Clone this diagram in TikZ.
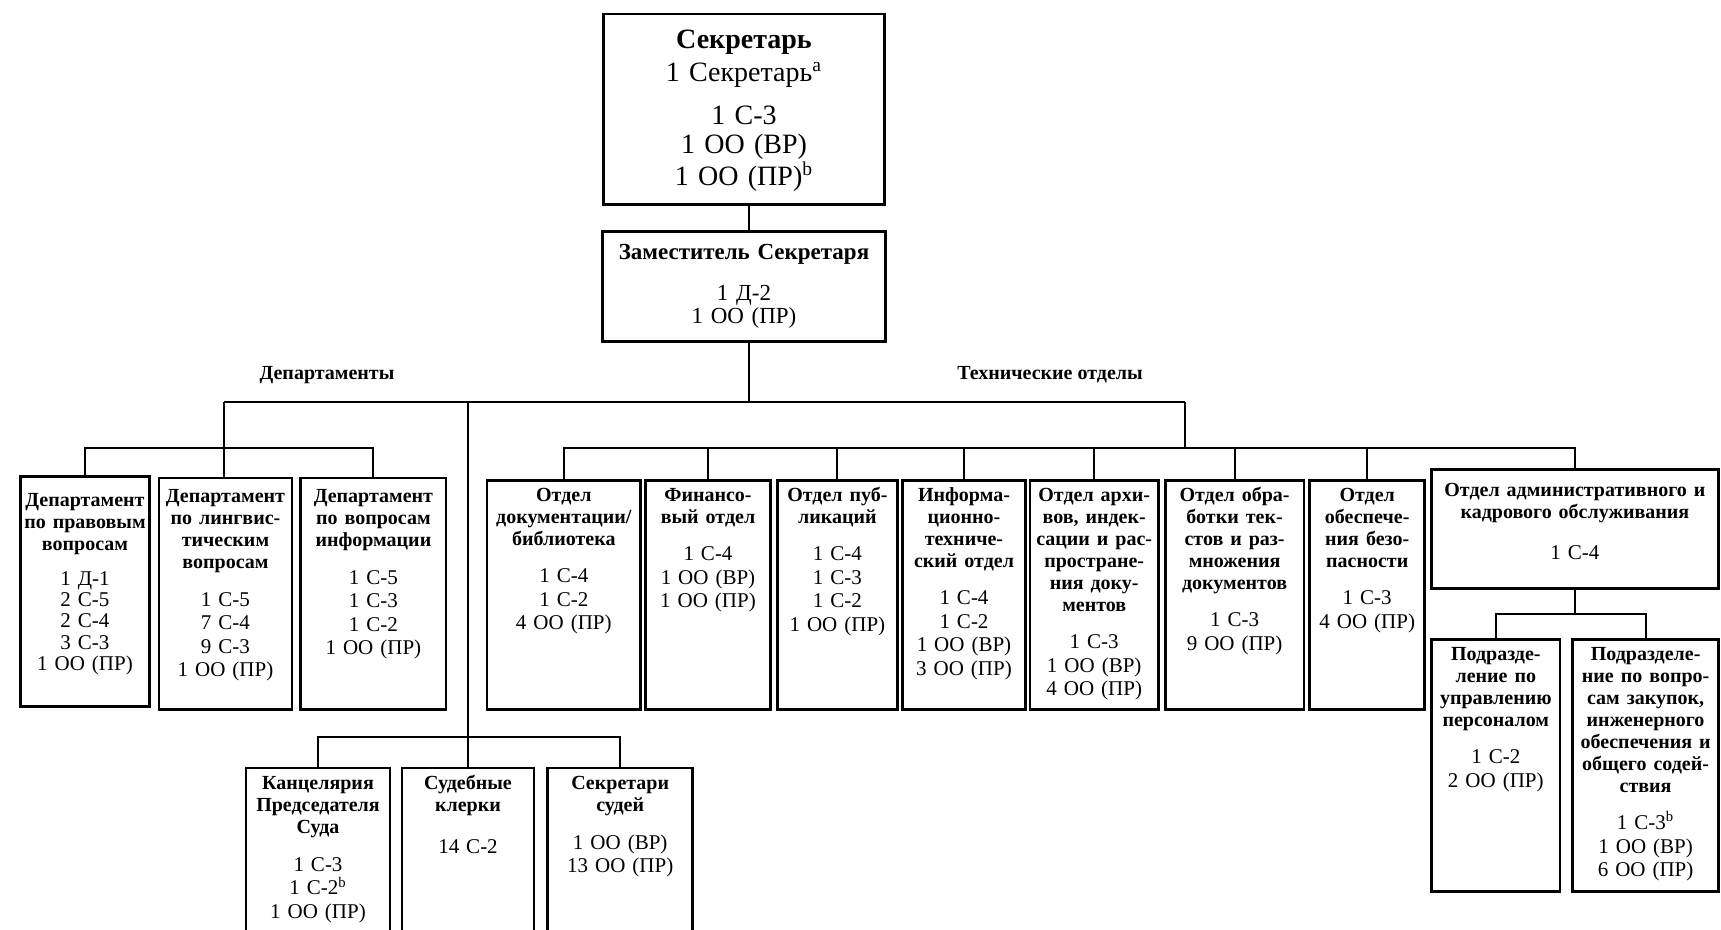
\documentclass[tikz,border=0pt]{standalone}
\usepackage{fontspec}
\setmainfont{Liberation Serif}
\tikzstyle{unitBox} = [rectangle, draw=black, line width=1.3pt, align=center, anchor=north, inner xsep=0pt, inner ysep=0pt, font=\fontsize{10.5}{11.75}\selectfont]
\tikzstyle{deptBox} = [unitBox, text height=12.5pt, text depth=103.15pt]
\tikzstyle{techBox} = [unitBox, text height=10.5pt, text depth=104pt]
\tikzstyle{subBox} = [unitBox, text height=10.5pt, text depth=115.5pt]
\tikzstyle{courtBox} = [unitBox, text height=11pt, text depth=79pt]
\tikzstyle{groupLabel} = [font=\bfseries\fontsize{10}{11}\selectfont]
\tikzstyle{link} = [line width=1pt]
\newcommand{\unitname}[1]{{\bfseries\fontsize{10}{11}\selectfont #1\par}\vspace{7pt}}

\begin{document}
\begin{tikzpicture}[x=0.5pt, y=-0.5pt]
\useasboundingbox (0,0) rectangle (1721,930);
\clip (0,0) rectangle (1721,930);

\node (secretary) [unitBox, text width=140.5pt, text height=17.3pt, text depth=77.85pt, font=\fontsize{14}{14.25}\selectfont] at (744,12.7) {
\textbf{Секретарь}\\[2.2pt]
1 Секретарь\textsuperscript{a}\\[7.5pt]
1 С-3\\
1 ОО (ВР)\\
1 ОО (ПР)\textsuperscript{b}
};

\node (deputy) [unitBox, text width=141.65pt, text height=14.25pt, text depth=40.75pt, font=\fontsize{11.5}{11.5}\selectfont] at (744,230) {
\textbf{Заместитель Секретаря}\\[9pt]
1 Д-2\\
1 ОО (ПР)
};

\node (deptLabel) [groupLabel] at (327,375) {Департаменты};
\node (techLabel) [groupLabel] at (1050,375) {Технические отделы};

\node (legal) [deptBox, text width=64.25pt, text height=15pt, text depth=100pt, font=\fontsize{10.5}{10.6}\selectfont] at (85,475) {
\unitname{Департамент\\ по правовым\\ вопросам}
1 Д-1\\ 2 С-5\\ 2 С-4\\ 3 С-3\\ 1 ОО (ПР)
};
\node (linguistic) [deptBox, text width=66.65pt] at (225.5,476.7) {
\unitname{Департамент\\ по лингвис-\\ тическим\\ вопросам}
1 С-5\\ 7 С-4\\ 9 С-3\\ 1 ОО (ПР)
};
\node (information) [deptBox, text width=72.65pt] at (373.4,476.7) {
\unitname{Департамент\\ по вопросам\\ информации}
1 С-5\\ 1 С-3\\ 1 С-2\\ 1 ОО (ПР)
};

\node (documentation) [techBox, text width=76.8pt] at (563.8,479) {
\unitname{Отдел\\ документации/\\ библиотека}
1 С-4\\ 1 С-2\\ 4 ОО (ПР)
};
\node (finance) [techBox, text width=62.4pt] at (708,479) {
\unitname{Финансо-\\ вый отдел}
1 С-4\\ 1 ОО (ВР)\\ 1 ОО (ПР)
};
\node (publications) [techBox, text width=60pt] at (837.4,479) {
\unitname{Отдел пуб-\\ ликаций}
1 С-4\\ 1 С-3\\ 1 С-2\\ 1 ОО (ПР)
};
\node (infotech) [techBox, text width=61.4pt] at (964,479) {
\unitname{Информа-\\ ционно-\\ техниче-\\ ский отдел}
1 С-4\\ 1 С-2\\ 1 ОО (ВР)\\ 3 ОО (ПР)
};
\node (archives) [techBox, text width=64.4pt] at (1094.2,479) {
\unitname{Отдел архи-\\ вов, индек-\\ сации и рас-\\ простране-\\ ния доку-\\ ментов}
1 С-3\\ 1 ОО (ВР)\\ 4 ОО (ПР)
};
\node (textprocessing) [techBox, text width=69.3pt] at (1234.6,479) {
\unitname{Отдел обра-\\ ботки тек-\\ стов и раз-\\ множения\\ документов}
1 С-3\\ 9 ОО (ПР)
};
\node (security) [techBox, text width=57.45pt] at (1367.2,479) {
\unitname{Отдел\\ обеспече-\\ ния безо-\\ пасности}
1 С-3\\ 4 ОО (ПР)
};
\node (admin) [unitBox, text width=143.6pt, text height=13.5pt, text depth=45.75pt] at (1574.9,468.5) {
\unitname{Отдел административного и\\ кадрового обслуживания}
\vspace{1.5pt}
1 С-4
};

\node (personnel) [subBox, text width=64.15pt] at (1495.8,638) {
\unitname{Подразде-\\ ление по\\ управлению\\ персоналом}
1 С-2\\ 2 ОО (ПР)
};
\node (procurement) [subBox, text width=72.9pt] at (1645.6,638) {
\unitname{Подразделе-\\ ние по вопро-\\ сам закупок,\\ инженерного\\ обеспечения и\\ общего содей-\\ ствия}
1 С-3\textsuperscript{b}\\ 1 ОО (ВР)\\ 6 ОО (ПР)
};

\node (presidency) [courtBox, text width=72pt] at (318,766.7) {
\unitname{Канцелярия\\ Председателя\\ Суда}
1 С-3\\ 1 С-2\textsuperscript{b}\\ 1 ОО (ПР)
};
\node (clerks) [courtBox, text width=66.15pt] at (468,766.7) {
\unitname{Судебные\\ клерки}
\vspace{2pt}
14 С-2
};
\node (judgesecretaries) [courtBox, text width=72.5pt] at (620.2,766.7) {
\unitname{Секретари\\ судей}
1 ОО (ВР)\\ 13 ОО (ПР)
};

\coordinate (trunk) at (748.5,402);
\coordinate (deptHub) at (224,402);
\coordinate (techHub) at (1185,402);
\coordinate (deptBar) at (224,448);
\coordinate (techBar) at (1185,448);
\coordinate (courtBar) at (468,736.7);
\coordinate (adminBar) at (1574.9,614);

\draw [link] (secretary.south -| trunk) -- (deputy.north -| trunk);
\draw [link] (deputy.south -| trunk) -- (trunk);
\draw [link] (deptHub) -- (techHub);

\draw [link] (deptHub) -- (deptBar);
\draw [link] (legal.north) |- (deptBar) -| (information.north);
\draw [link] (linguistic.north -| deptBar) -- (deptBar);

\draw [link] (deptHub -| clerks.north) -- (clerks.north);
\draw [link] (presidency.north) |- (courtBar) -| (judgesecretaries.north);

\draw [link] (techHub) -- (techBar);
\draw [link] (documentation.north) |- (techBar) -| (admin.north);
\draw [link] (finance.north) -- (finance.north |- techBar);
\draw [link] (publications.north) -- (publications.north |- techBar);
\draw [link] (infotech.north) -- (infotech.north |- techBar);
\draw [link] (archives.north) -- (archives.north |- techBar);
\draw [link] (textprocessing.north) -- (textprocessing.north |- techBar);
\draw [link] (security.north) -- (security.north |- techBar);

\draw [link] (admin.south) -- (adminBar);
\draw [link] (personnel.north) |- (adminBar) -| (procurement.north);

\end{tikzpicture}
\end{document}
